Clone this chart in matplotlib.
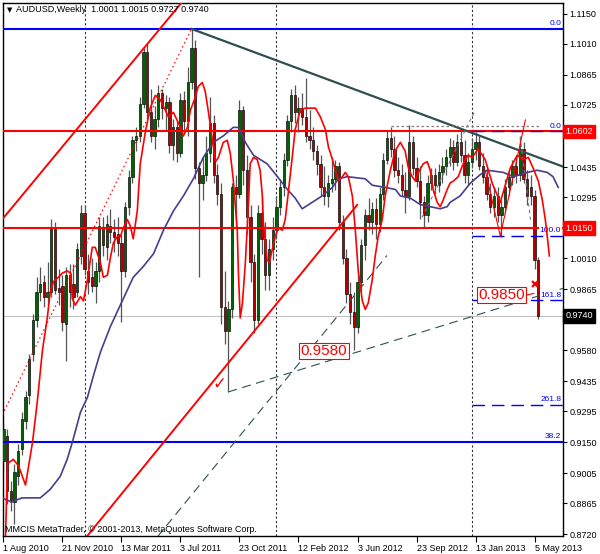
import matplotlib
matplotlib.use('Agg')
import matplotlib.pyplot as plt
from matplotlib import rc
from matplotlib.transforms import blended_transform_factory

rc('font', **{'family': 'sans-serif',
              'sans-serif': ['Liberation Sans', 'DejaVu Sans'],
              'size': 6.5})

# weekly AUDUSD candles, index 0 = week of 1 Aug 2010
opens = [0.906, 0.918, 0.892, 0.887, 0.899, 0.912, 0.925, 0.937, 0.956, 0.972,
         0.985, 0.990, 0.983, 0.985, 1.015, 0.987, 0.988, 0.970, 0.993, 0.989,
         0.985, 1.002, 1.022, 0.995, 0.992, 0.988, 0.995, 1.015, 1.006, 1.016,
         1.013, 1.012, 1.008, 0.995, 1.025, 1.039, 1.056, 1.058, 1.073, 1.097,
         1.069, 1.058, 1.066, 1.078, 1.071, 1.074, 1.054, 1.062, 1.050, 1.075,
         1.065, 1.083, 1.099, 1.043, 1.036, 1.040, 1.050, 1.064, 1.040, 1.031,
         0.978, 0.967, 0.977, 1.034, 1.031, 1.070, 1.042, 1.020, 0.999, 0.972,
         1.022, 1.010, 0.993, 1.005, 1.014, 1.025, 1.034, 1.047, 1.065, 1.077,
         1.069, 1.071, 1.067, 1.058, 1.056, 1.051, 1.045, 1.034, 1.030, 1.036,
         1.038, 1.044, 1.018, 1.001, 0.984, 0.976, 0.969, 0.990, 1.007, 1.021,
         1.018, 1.024, 1.017, 1.031, 1.047, 1.057, 1.052, 1.042, 1.040, 1.033,
         1.030, 1.055, 1.043, 1.037, 1.027, 1.021, 1.036, 1.040, 1.035, 1.041,
         1.044, 1.048, 1.053, 1.046, 1.055, 1.049, 1.040, 1.046, 1.052, 1.055,
         1.044, 1.039, 1.031, 1.025, 1.030, 1.021, 1.025, 1.034, 1.039, 1.044,
         1.040, 1.052, 1.038, 1.034, 1.030, 1.0001]
highs = [0.924, 0.921, 0.897, 0.905, 0.914, 0.929, 0.939, 0.956, 0.975, 0.992,
         0.997, 0.993, 0.999, 1.019, 1.018, 0.996, 0.993, 0.997, 0.998, 0.998,
         1.008, 1.026, 1.026, 1.003, 1.001, 0.999, 1.020, 1.020, 1.021, 1.024,
         1.019, 1.020, 1.012, 1.027, 1.042, 1.058, 1.062, 1.076, 1.099, 1.101,
         1.080, 1.072, 1.082, 1.080, 1.077, 1.076, 1.066, 1.065, 1.078, 1.079,
         1.090, 1.108, 1.103, 1.046, 1.048, 1.058, 1.076, 1.068, 1.045, 1.036,
         0.995, 0.981, 1.036, 1.040, 1.075, 1.072, 1.049, 1.026, 1.003, 1.026,
         1.030, 1.018, 1.010, 1.020, 1.030, 1.038, 1.050, 1.068, 1.080, 1.082,
         1.076, 1.078, 1.085, 1.070, 1.062, 1.054, 1.049, 1.044, 1.040, 1.048,
         1.047, 1.046, 1.021, 1.005, 0.990, 0.985, 0.995, 1.010, 1.024, 1.029,
         1.027, 1.029, 1.034, 1.050, 1.061, 1.062, 1.058, 1.048, 1.045, 1.041,
         1.063, 1.058, 1.048, 1.044, 1.030, 1.040, 1.043, 1.043, 1.045, 1.048,
         1.052, 1.057, 1.056, 1.059, 1.061, 1.056, 1.050, 1.057, 1.060, 1.058,
         1.050, 1.043, 1.036, 1.034, 1.034, 1.028, 1.038, 1.042, 1.047, 1.048,
         1.058, 1.055, 1.042, 1.040, 1.033, 1.0015]
lows = [0.902, 0.886, 0.883, 0.877, 0.895, 0.909, 0.921, 0.933, 0.953, 0.969,
        0.981, 0.978, 0.979, 0.983, 0.984, 0.979, 0.967, 0.953, 0.978, 0.977,
        0.983, 0.998, 0.993, 0.984, 0.985, 0.980, 0.990, 1.002, 1.000, 1.008,
        1.004, 1.002, 0.971, 0.992, 1.021, 1.036, 1.051, 1.055, 1.071, 1.066,
        1.055, 1.052, 1.062, 1.066, 1.061, 1.050, 1.047, 1.046, 1.048, 1.060,
        1.058, 1.080, 1.038, 0.992, 1.028, 1.037, 1.046, 1.036, 1.026, 0.970,
        0.961, 0.9385, 0.973, 1.016, 1.029, 1.035, 1.012, 0.990, 0.966, 0.970,
        1.003, 0.986, 0.986, 1.000, 1.010, 1.021, 1.030, 1.044, 1.060, 1.064,
        1.060, 1.063, 1.055, 1.052, 1.047, 1.040, 1.030, 1.026, 1.025, 1.032,
        1.033, 1.014, 0.998, 0.980, 0.970, 0.958, 0.966, 0.985, 1.000, 1.014,
        1.012, 1.010, 1.013, 1.028, 1.045, 1.048, 1.039, 1.036, 1.030, 1.022,
        1.028, 1.040, 1.034, 1.019, 1.015, 1.018, 1.033, 1.031, 1.032, 1.036,
        1.040, 1.044, 1.042, 1.044, 1.046, 1.036, 1.035, 1.043, 1.047, 1.042,
        1.036, 1.028, 1.022, 1.020, 1.018, 1.011, 1.022, 1.030, 1.035, 1.036,
        1.037, 1.036, 1.026, 1.026, 0.996, 0.9727]
closes = [0.921, 0.892, 0.888, 0.901, 0.911, 0.926, 0.936, 0.954, 0.972, 0.985,
          0.989, 0.983, 0.985, 1.015, 0.986, 0.985, 0.971, 0.993, 0.985, 0.983,
          1.005, 1.022, 0.996, 0.990, 0.988, 0.995, 1.016, 1.007, 1.017, 1.013,
          1.011, 1.008, 0.995, 1.025, 1.039, 1.056, 1.058, 1.073, 1.097, 1.069,
          1.058, 1.066, 1.078, 1.071, 1.074, 1.054, 1.062, 1.050, 1.075, 1.065,
          1.083, 1.099, 1.043, 1.036, 1.040, 1.050, 1.064, 1.040, 1.031, 0.978,
          0.967, 0.977, 1.034, 1.031, 1.070, 1.042, 1.020, 0.999, 0.972, 1.022,
          1.010, 0.993, 1.005, 1.014, 1.025, 1.034, 1.047, 1.065, 1.077, 1.069,
          1.071, 1.067, 1.058, 1.056, 1.051, 1.045, 1.034, 1.030, 1.036, 1.038,
          1.044, 1.018, 1.001, 0.984, 0.976, 0.969, 0.990, 1.007, 1.021, 1.018,
          1.024, 1.017, 1.031, 1.047, 1.057, 1.052, 1.042, 1.040, 1.033, 1.030,
          1.055, 1.043, 1.037, 1.027, 1.021, 1.036, 1.040, 1.035, 1.041, 1.044,
          1.048, 1.053, 1.046, 1.055, 1.049, 1.040, 1.046, 1.052, 1.055, 1.044,
          1.039, 1.031, 1.025, 1.030, 1.021, 1.025, 1.034, 1.039, 1.044, 1.040,
          1.052, 1.038, 1.030, 1.030, 1.000, 0.9740]

tick_weeks = [0, 16, 32, 48, 64, 80, 96, 112, 128, 144]
tick_dates = ['1 Aug 2010', '21 Nov 2010', '13 Mar 2011', '3 Jul 2011',
              '23 Oct 2011', '12 Feb 2012', '3 Jun 2012', '23 Sep 2012',
              '13 Jan 2013', '5 May 2013']
price_ticks = [1.1150, 1.1010, 1.0865, 1.0725, 1.0580, 1.0435, 1.0295,
               1.0150, 1.0010, 0.9865, 0.9725, 0.9580, 0.9435, 0.9295,
               0.9150, 0.9005, 0.8865, 0.8720]
# ticks whose labels sit under the coloured price tags
covered_ticks = [1.0580, 1.0150, 0.9725]
year_breaks = [22, 74, 127]

red_line = [(0.5, 0.865), (1.1, 0.905), (2.7, 0.907), (4.1, 0.904), (6.0, 0.895),
            (7.9, 0.915), (9.2, 0.934), (10.6, 0.958), (11.9, 0.973), (12.7, 0.985),
            (13.6, 0.990), (14.9, 0.992), (16.0, 0.994), (17.3, 0.995), (18.2, 0.994),
            (18.7, 0.982), (19.5, 0.979), (20.9, 0.983), (21.7, 0.981), (22.8, 0.991),
            (24.1, 1.006), (24.9, 1.006), (26.3, 0.999), (27.1, 0.992), (28.2, 0.993),
            (29.0, 1.001), (29.8, 1.008), (30.9, 1.011), (31.7, 1.011), (32.5, 1.015),
            (33.6, 1.019), (34.4, 1.016), (35.2, 1.010), (36.3, 1.023), (37.1, 1.045),
            (38.5, 1.060), (39.8, 1.071), (41.2, 1.077), (42.5, 1.075), (43.9, 1.070),
            (44.7, 1.067), (46.1, 1.069), (47.2, 1.065), (48.0, 1.062), (48.8, 1.058),
            (49.9, 1.062), (50.7, 1.070), (52.0, 1.076), (52.8, 1.081), (53.9, 1.083),
            (54.7, 1.079), (55.6, 1.069), (56.6, 1.057), (57.5, 1.046), (58.3, 1.048),
            (59.6, 1.055), (60.7, 1.056), (61.5, 1.050), (62.3, 1.038), (63.4, 1.014),
            (63.7, 0.995), (64.2, 0.973), (64.8, 0.980), (65.6, 0.999), (66.4, 1.025),
            (66.9, 1.045), (67.8, 1.048), (68.8, 1.047), (69.6, 1.042), (70.2, 1.030),
            (70.5, 1.017), (71.5, 1.000), (72.1, 0.999), (72.9, 1.005), (73.7, 1.011),
            (74.5, 1.015), (75.6, 1.014), (76.4, 1.019), (77.2, 1.031), (78.3, 1.048),
            (79.1, 1.061), (80.5, 1.070), (81.8, 1.071), (84.6, 1.071), (85.9, 1.067),
            (87.3, 1.061), (88.1, 1.053), (89.2, 1.047), (90.0, 1.042), (90.8, 1.037),
            (91.9, 1.039), (92.7, 1.041), (93.5, 1.039), (94.6, 1.030), (95.4, 1.014),
            (96.2, 0.995), (97.3, 0.981), (98.1, 0.977), (98.9, 0.980), (100.0, 0.991),
            (100.8, 1.002), (101.6, 1.011), (102.7, 1.019), (103.5, 1.030), (104.9, 1.042),
            (106.2, 1.051), (107.6, 1.055), (108.9, 1.051), (109.8, 1.043), (110.8, 1.039),
            (111.7, 1.037), (112.5, 1.041), (113.8, 1.045), (114.9, 1.046), (115.7, 1.042),
            (116.5, 1.033), (117.6, 1.027), (118.4, 1.025), (119.2, 1.028), (120.3, 1.033),
            (121.1, 1.036), (122.0, 1.037), (123.3, 1.039), (124.4, 1.044), (125.2, 1.047),
            (126.0, 1.049), (127.1, 1.048), (128.7, 1.052), (130.6, 1.047), (132.5, 1.036),
            (134.7, 1.027), (137.4, 1.043), (139.3, 1.049), (140.9, 1.047), (142.3, 1.048),
            (143.6, 1.043), (145.0, 1.037), (146.1, 1.028), (146.9, 1.019), (147.5, 1.010),
            (148.0, 1.002)]
ma_line = [(-0.3, 0.889), (2.2, 0.887), (5.0, 0.889), (10.0, 0.889), (12.7, 0.893),
           (15.4, 0.899), (17.3, 0.907), (18.7, 0.915), (20.9, 0.929), (22.8, 0.936),
           (24.4, 0.946), (26.3, 0.957), (29.0, 0.969), (31.7, 0.979), (35.2, 0.992),
           (37.9, 0.997), (40.7, 1.003), (43.4, 1.014), (46.1, 1.023), (48.8, 1.030),
           (51.5, 1.038), (54.2, 1.048), (56.9, 1.055), (59.6, 1.058), (62.3, 1.062),
           (63.7, 1.062), (65.6, 1.055), (67.8, 1.049), (71.5, 1.045), (74.3, 1.039),
           (77.0, 1.033), (79.1, 1.029), (81.0, 1.024), (83.7, 1.027), (86.4, 1.030),
           (89.2, 1.034), (90.8, 1.038), (93.2, 1.039), (98.1, 1.038), (100.0, 1.035),
           (103.5, 1.034), (106.3, 1.033), (107.6, 1.030), (110.3, 1.029), (113.0, 1.026),
           (115.7, 1.025), (118.4, 1.024), (120.3, 1.025), (121.1, 1.027), (123.8, 1.030),
           (126.6, 1.036), (129.3, 1.040), (131.2, 1.042), (135.5, 1.041), (138.2, 1.039),
           (142.0, 1.041), (144.7, 1.042), (147.4, 1.041), (149.0, 1.039), (150.4, 1.034)]

# drawn objects: (weeks, prices)
resist_line = ([51, 152], [1.1080, 1.0435])
chan_upper = ([-1, 50], [1.0176, 1.1238])
chan_lower = ([22.5, 95.9], [0.8707, 1.0258])
dotted_red = ([-0.8, 51], [0.926, 1.108])
support_dash = ([61, 152], [0.9385, 0.9870])
steep_dash = ([41.7, 104], [0.8707, 1.0022])
fine_dash = ([113.5, 127.9], [1.020, 1.070])
short_dash = ([140.1, 142.9], [1.0575, 1.0188])
top_dotted = ([105, 145.5], [1.0627, 1.0627])
thin_red = ([130.6, 134.7, 141.5], [1.0421, 1.0113, 1.0655])

blue_levels = [(1.1080, '0.0'), (0.9150, '38.2')]
red_levels = [1.0602, 1.0150]
fib_start = 127
fib_levels = [(1.0602, '0.0'), (1.0114, '100.0'), (0.9812, '161.8'), (0.9324, '261.8')]
bid = 0.9740


def main():
    fig = plt.figure(figsize=(6.0, 5.54), dpi=100)
    ax = fig.add_axes([3 / 600, 18 / 554, 560 / 600, 533 / 554])
    ax.set_xlim(-0.1, 151.7)
    ax.set_ylim(0.8712, 1.1201)

    for w in year_breaks:
        ax.axvline(w, color='#303030', lw=0.8, ls=(0, (2, 2)), zorder=1)

    # candles
    wk = list(range(len(opens)))
    ax.vlines(wk, lows, highs, color='#555555', lw=0.9, zorder=2)
    bottoms = [min(o, c) for o, c in zip(opens, closes)]
    heights = [max(abs(c - o), 0.0005) for o, c in zip(opens, closes)]
    colors = ['#006400' if c >= o else '#B00000' for o, c in zip(opens, closes)]
    ax.bar(wk, heights, bottom=bottoms, width=0.62, color=colors,
           edgecolor='black', linewidth=0.45, zorder=3)

    # horizontal levels
    for lvl, txt in blue_levels:
        ax.axhline(lvl, color='#0000FF', lw=1.5, zorder=4)
        ax.text(151.2, lvl + 0.0008, txt, color='#0000FF', fontsize=6,
                ha='right', va='bottom', zorder=6)
    for lvl in red_levels:
        ax.axhline(lvl, color='#FF0000', lw=1.5, zorder=4)
    ax.axhline(bid, color='#C0C0C0', lw=0.8, zorder=1)
    for lvl, txt in fib_levels:
        ax.hlines(lvl, fib_start, 151.7, colors='#0000FF', lw=1.0,
                  linestyles=(0, (9, 5)), zorder=4)
        ax.text(151.2, lvl + 0.0008, txt, color='#0000FF', fontsize=6,
                ha='right', va='bottom', zorder=6,
                bbox=dict(boxstyle='square,pad=0.05', fc='white', ec='none'))

    # trend objects
    ax.plot(*resist_line, color='#2F4F4F', lw=1.6, zorder=5)
    ax.plot(*chan_upper, color='#FF0000', lw=1.4, zorder=5)
    ax.plot(*chan_lower, color='#FF0000', lw=1.4, zorder=5)
    ax.plot(*dotted_red, color='#FF0000', lw=0.8, ls=(0, (1.5, 2.5)), zorder=5)
    ax.plot(*support_dash, color='#2F4F4F', lw=0.8, ls=(0, (8, 5)), zorder=5)
    ax.plot(*steep_dash, color='#2F4F4F', lw=0.8, ls=(0, (8, 5)), zorder=5)
    ax.plot(*fine_dash, color='#708090', lw=0.8, ls=(0, (3, 3)), zorder=5)
    ax.plot(*short_dash, color='#708090', lw=0.8, ls=(0, (3, 3)), zorder=5)
    ax.plot(*top_dotted, color='#808080', lw=0.9, ls=(0, (2, 2)), zorder=5)
    ax.plot(*thin_red, color='#FF0000', lw=0.8, zorder=5)

    # indicators
    ax.plot([p[0] for p in ma_line], [p[1] for p in ma_line],
            color='#483D8B', lw=1.2, zorder=6)
    ax.plot([p[0] for p in red_line], [p[1] for p in red_line],
            color='#FF0000', lw=1.2, zorder=6)

    # marks and price labels on the chart
    ax.text(58.6, 0.9422, '\u2713', color='#FF0000', fontsize=12,
            family=['DejaVu Sans'], fontweight='bold', ha='center',
            va='center', zorder=7)
    ax.plot([144.1], [0.9889], marker='x', ms=4.5, mew=1.6, color='#FF0000',
            zorder=7)
    box = dict(boxstyle='square,pad=0.08', fc='white', ec='#FF0000', lw=0.8)
    ax.text(128.8, 0.9837, '0.9850', color='#FF0000', fontsize=11,
            ha='left', va='center', bbox=box, zorder=7)
    ax.plot([141.8, 143.8], [0.9837, 0.9845], color='#FF0000', lw=0.8, zorder=7)
    ax.text(80.6, 0.9576, '0.9580', color='#FF0000', fontsize=11,
            ha='left', va='center', bbox=box, zorder=7)

    # axes look
    for s in ax.spines.values():
        s.set_linewidth(1.0)
        s.set_color('black')
    ax.yaxis.tick_right()
    ax.set_yticks(price_ticks)
    ax.set_yticklabels(['' if v in covered_ticks else '%.4f' % v
                        for v in price_ticks])
    ax.tick_params(axis='y', direction='out', length=3, pad=1.5, labelsize=6.5)
    ax.set_xticks(tick_weeks)
    ax.set_xticklabels(tick_dates)
    ax.tick_params(axis='x', direction='out', length=4, pad=1.5, labelsize=6.5)
    for lbl in ax.get_xticklabels():
        lbl.set_horizontalalignment('left')

    tr = blended_transform_factory(ax.transAxes, ax.transData)
    for lvl, txt, bg in [(1.0602, '1.0602', '#FF0000'),
                         (1.0150, '1.0150', '#FF0000'),
                         (bid, '0.9740', 'black')]:
        ax.text(1.004, lvl, txt, transform=tr, color='white', fontsize=6.5,
                ha='left', va='center', clip_on=False, zorder=10,
                bbox=dict(boxstyle='square,pad=0.25', fc=bg, ec=bg))

    fig.text(7 / 600, 1 - 10 / 554, '\u25bc', fontsize=5,
             family=['DejaVu Sans'], va='center', ha='left')
    fig.text(16 / 600, 1 - 10 / 554,
             'AUDUSD,Weekly  1.0001 1.0015 0.9727 0.9740',
             fontsize=6.5, va='center', ha='left')
    fig.text(5 / 600, 1 - 530 / 554,
             'MMCIS MetaTrader, \u00a9 2001-2013, MetaQuotes Software Corp.',
             fontsize=6.5, va='center', ha='left')

    fig.savefig('out.png', dpi=100)


if __name__ == '__main__':
    main()
